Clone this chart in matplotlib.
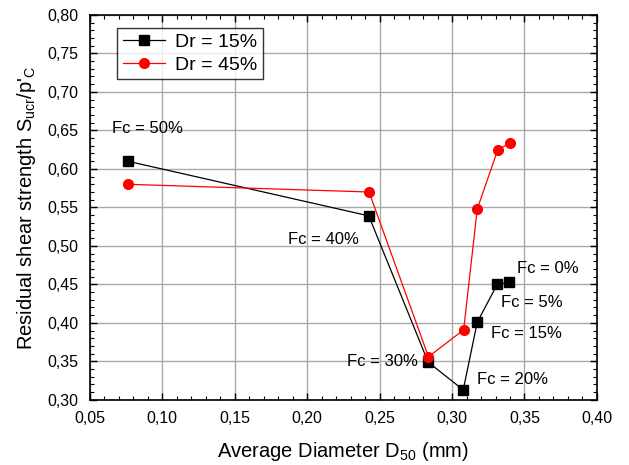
import matplotlib
matplotlib.use("Agg")
import matplotlib.pyplot as plt
from matplotlib.ticker import MultipleLocator, FuncFormatter

plt.rcParams["font.family"] = ["Liberation Sans", "DejaVu Sans"]
plt.rcParams["mathtext.fontset"] = "custom"
plt.rcParams["mathtext.rm"] = "Liberation Sans"

# D50 (mm) and residual shear strength ratio
d50_15 = [0.076, 0.2425, 0.2835, 0.3077, 0.3174, 0.3312, 0.3393]
s_15 = [0.610, 0.539, 0.349, 0.313, 0.401, 0.450, 0.453]
d50_45 = [0.076, 0.2427, 0.2837, 0.308, 0.3174, 0.3314, 0.3398]
s_45 = [0.580, 0.570, 0.356, 0.391, 0.548, 0.624, 0.634]

fc_labels = ["Fc = 50%", "Fc = 40%", "Fc = 30%", "Fc = 20%", "Fc = 15%", "Fc = 5%", "Fc = 0%"]
fc_pos = [(0.065, 0.653), (0.187, 0.508), (0.2275, 0.350), (0.3174, 0.327),
          (0.327, 0.386), (0.334, 0.427), (0.345, 0.470)]


def comma(v, pos):
    return f"{v:.2f}".replace(".", ",")


fig = plt.figure(figsize=(6.29, 4.65), dpi=100)
ax = fig.add_axes([0.143, 0.140, 0.806, 0.828])

ax.plot(d50_15, s_15, color="black", lw=0.9, marker="s", ms=6.5, label="Dr = 15%", zorder=3)
ax.plot(d50_45, s_45, color="red", lw=0.9, marker="o", ms=7, label="Dr = 45%", zorder=3)

for txt, (x, y) in zip(fc_labels, fc_pos):
    ax.text(x, y, txt, fontsize=12, ha="left", va="center", zorder=4)

ax.set_xlim(0.05, 0.40)
ax.set_ylim(0.30, 0.80)
ax.xaxis.set_major_locator(MultipleLocator(0.05))
ax.xaxis.set_minor_locator(MultipleLocator(0.01))
ax.yaxis.set_major_locator(MultipleLocator(0.05))
ax.yaxis.set_minor_locator(MultipleLocator(0.01))
ax.xaxis.set_major_formatter(FuncFormatter(comma))
ax.yaxis.set_major_formatter(FuncFormatter(comma))
ax.tick_params(which="both", direction="in", top=True, right=True, labelsize=11.5)
ax.tick_params(which="major", length=5, width=1, pad=8)
ax.tick_params(which="minor", length=3, width=0.8)
ax.grid(True, which="major", color="#aaaaaa", lw=1)
for s in ax.spines.values():
    s.set_linewidth(1.2)

ax.set_xlabel(r"Average Diameter D$\mathregular{_{50}}$ (mm)", fontsize=14.5, labelpad=10)
ax.set_ylabel(r"Residual shear strength S$\mathregular{_{ucr}}$/p'$\mathregular{_{C}}$", fontsize=14.5, labelpad=7)

leg = ax.legend(loc="upper left", bbox_to_anchor=(0.053, 0.967), borderaxespad=0, fontsize=14,
                frameon=True, fancybox=False, edgecolor="black", handlelength=2.2, borderpad=0.3,
                labelspacing=0.25, handletextpad=0.5)
leg.get_frame().set_linewidth(1)

fig.savefig("out.png", dpi=100)
